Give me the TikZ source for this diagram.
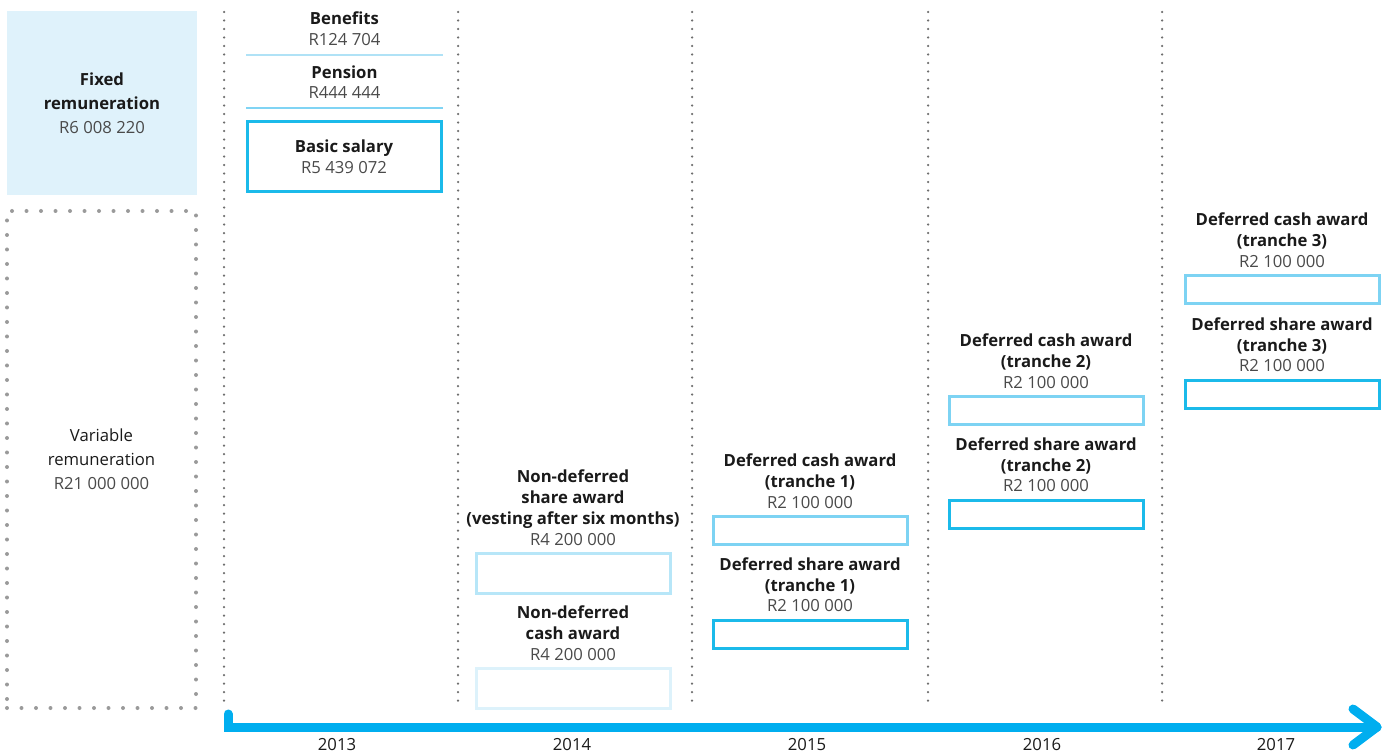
\documentclass[tikz,border=0pt]{standalone}
\usepackage{fontspec}
\usepackage{xcolor}
\setmainfont{Open Sans}
\usetikzlibrary{positioning}

\definecolor{fixed-fill}{HTML}{DFF2FB}
\definecolor{title-black}{HTML}{1A1A1A}
\definecolor{value-grey}{HTML}{4A4A4A}
\definecolor{sep-grey}{HTML}{6E6E6E}
\definecolor{dot-grey}{HTML}{9A9A9A}
\definecolor{bar-light}{HTML}{B0E2F6}
\definecolor{bar-mid}{HTML}{80D4F4}
\definecolor{box-strong}{HTML}{1BBAEA}
\definecolor{box-mid}{HTML}{7DD3F3}
\definecolor{box-pale}{HTML}{B7E6F8}
\definecolor{box-faint}{HTML}{DDF2FB}
\definecolor{axis-blue}{HTML}{00AEEF}

\newcommand{\amount}[1]{{\mdseries\color{value-grey}#1}}

\begin{document}
\begin{tikzpicture}
[
x=0.2mm, y=-0.2mm,
box-a/.style={draw, line width=0.6mm, minimum width=38.8mm, minimum height=5.6mm, inner sep=0},
text-a/.style={align=center, inner sep=0, text=title-black, font=\fontsize{9.5}{11.9}\selectfont\bfseries},
side-a/.style={align=center, inner sep=0, text=title-black, font=\fontsize{9.5}{13.6}\selectfont},
bar-a/.style={minimum width=39.4mm, minimum height=0.55mm, inner sep=0},
sep-a/.style={draw=sep-grey, line width=0.5mm, line cap=round, dash pattern=on 0pt off 1.7mm},
axis-a/.style={draw=axis-blue, line width=1.8mm},
year-a/.style={text=title-black, font=\fontsize{9.5}{11.9}\selectfont}
]
\useasboundingbox (0,0) rectangle (1390,753);

% left column: fixed and variable totals
\node (fixed)    [side-a, fill=fixed-fill, minimum width=38mm, minimum height=36.8mm] at (102,103)
  {\textbf{Fixed}\\\textbf{remuneration}\\\amount{R6 008 220}};
\node (variable) [side-a, draw=dot-grey, line width=0.8mm, line cap=round, dash pattern=on 0pt off 2.9mm,
                  minimum width=37.8mm, minimum height=99.4mm] at (101.5,459.5)
  {Variable\\remuneration\\\amount{R21 000 000}};

% year separators
\foreach \x in {224,458,692,928,1162}
  \draw[sep-a] (\x,12) -- (\x,706);

% 2013
\node (benefits-bar)  [bar-a, fill=bar-light] at (344.5,55) {};
\node (benefits-text) [text-a, above = 1.4mm of benefits-bar] {Benefits\\\amount{R124 704}};
\node (pension-bar)   [bar-a, fill=bar-mid] at (344.5,108) {};
\node (pension-text)  [text-a, above = 1.4mm of pension-bar] {Pension\\\amount{R444 444}};
\node (salary)        [box-a, text-a, draw=box-strong, minimum height=14mm] at (344,156.5)
  {Basic salary\\\amount{R5 439 072}};

% 2014
\node (share-2014)      [box-a, draw=box-pale, minimum height=8mm] at (573,573.5) {};
\node (share-2014-text) [text-a, above = 1.2mm of share-2014]
  {Non-deferred\\share award\\(vesting after six months)\\\amount{R4 200 000}};
\node (cash-2014)       [box-a, draw=box-faint, minimum height=8mm] at (573,688.5) {};
\node (cash-2014-text)  [text-a, above = 1.2mm of cash-2014]
  {Non-deferred\\cash award\\\amount{R4 200 000}};

% 2015
\node (cash-2015)       [box-a, draw=box-mid] at (810,530.5) {};
\node (cash-2015-text)  [text-a, above = 1.2mm of cash-2015]
  {Deferred cash award\\(tranche 1)\\\amount{R2 100 000}};
\node (share-2015)      [box-a, draw=box-strong] at (810,634) {};
\node (share-2015-text) [text-a, above = 1.2mm of share-2015]
  {Deferred share award\\(tranche 1)\\\amount{R2 100 000}};

% 2016
\node (cash-2016)       [box-a, draw=box-mid] at (1046,410.5) {};
\node (cash-2016-text)  [text-a, above = 1.2mm of cash-2016]
  {Deferred cash award\\(tranche 2)\\\amount{R2 100 000}};
\node (share-2016)      [box-a, draw=box-strong] at (1046,514) {};
\node (share-2016-text) [text-a, above = 1.2mm of share-2016]
  {Deferred share award\\(tranche 2)\\\amount{R2 100 000}};

% 2017
\node (cash-2017)       [box-a, draw=box-mid] at (1282,289.5) {};
\node (cash-2017-text)  [text-a, above = 1.2mm of cash-2017]
  {Deferred cash award\\(tranche 3)\\\amount{R2 100 000}};
\node (share-2017)      [box-a, draw=box-strong] at (1282,394) {};
\node (share-2017-text) [text-a, above = 1.2mm of share-2017]
  {Deferred share award\\(tranche 3)\\\amount{R2 100 000}};

% time axis
\coordinate (axis-start) at (228,714);
\coordinate (axis-end)   at (1377,727);
\draw[axis-a, line cap=round] (axis-start) |- (axis-end);
\draw[axis-a, line cap=round, line join=round] (axis-end) ++(-24,-18) -- (axis-end) -- ++(-24,18);

\foreach \year/\x in {2013/337, 2014/572, 2015/807, 2016/1042, 2017/1276}
  \node (year-\year) [year-a] at (\x,745) {\year};
\end{tikzpicture}
\end{document}
